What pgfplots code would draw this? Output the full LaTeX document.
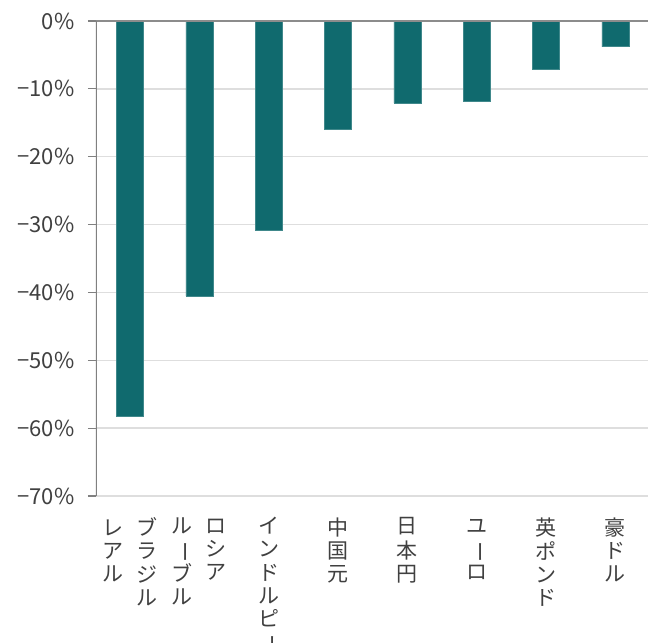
\documentclass[border=0pt]{standalone}
\usepackage{fontspec}
\setmainfont{Noto Sans CJK JP}
\usepackage{graphicx}
\usepackage{pgfplots}
\pgfplotsset{compat=1.18}
\definecolor{barc}{RGB}{16,106,110}
\definecolor{txt}{RGB}{64,64,64}
\newcommand{\vc}[1]{\begin{tabular}[t]{@{}c@{}}#1\end{tabular}}
\newcommand{\cho}{\rotatebox[origin=c]{-90}{ー}}
\begin{document}
\begin{tikzpicture}
\begin{axis}[
  name=ax,
  scale only axis, width=552pt, height=475pt,
  xmin=-0.49, xmax=7.47, ymin=-70, ymax=0,
  ybar, bar width=27pt,
  axis line style={draw=none},
  ymajorgrids, grid style={line width=1.5pt, color=black!13},
  ytick={0,-10,-20,-30,-40,-50,-60,-70},
  yticklabels={0\%,−10\%,−20\%,−30\%,−40\%,−50\%,−60\%,−70\%},
  ytick pos=left, tick align=outside, major tick length=8pt,
  ytick style={draw=black!50, line width=1.2pt},
  yticklabel style={font=\fontsize{22}{26}\selectfont, text=txt, xshift=-10pt},
  xtick={0,...,7},
  xtick style={draw=none},
  xticklabels={
    {\vc{レ\\ア\\ル}\hspace{13pt}\vc{ブ\\ラ\\ジ\\ル}},
    {\vc{ル\\\cho\\ブ\\ル}\hspace{13pt}\vc{ロ\\シ\\ア}},
    {\vc{イ\\ン\\ド\\ル\\ピ\\\cho}},
    {\vc{中\\国\\元}},
    {\vc{日\\本\\円}},
    {\vc{ユ\\\cho\\ロ}},
    {\vc{英\\ポ\\ン\\ド}},
    {\vc{豪\\ド\\ル}}},
  xticklabel style={font=\fontsize{21}{23}\selectfont, text=txt, anchor=north, yshift=-10pt},
]
\addplot[fill=barc, draw=barc!80!white, line width=0.6pt] coordinates {
  (0,-58.3) (1,-40.5) (2,-30.9) (3,-15.9) (4,-12.1) (5,-11.8) (6,-7.1) (7,-3.8)};
\draw[black!45, line width=2pt] (rel axis cs:0,1) -- (rel axis cs:1,1);
\draw[black!50, line width=1.3pt] (rel axis cs:0,0) -- (rel axis cs:0,1);
\end{axis}
\pgfresetboundingbox
\path[use as bounding box] ([xshift=-96pt,yshift=-147pt]ax.south west) rectangle ([yshift=21pt]ax.north east);
\end{tikzpicture}
\end{document}
